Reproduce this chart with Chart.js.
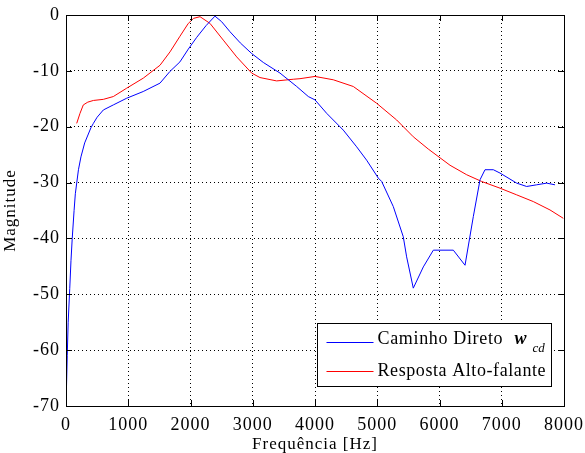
<!DOCTYPE html>
<html>
<head>
<meta charset="utf-8">
<script src="https://cdn.jsdelivr.net/npm/chart.js@4/dist/chart.umd.min.js"></script>
<style>
  html, body { margin: 0; padding: 0; background: #fff; }
  #wrap { width: 585px; height: 453px; }
</style>
</head>
<body>
<div id="wrap"><canvas id="c" width="585" height="453"></canvas></div>
<script>
// Caminho direto (w_cd): frequência [Hz] e magnitude
const freqDireto = [5, 20, 35, 60, 80, 100, 130, 150, 200, 240, 300, 400, 440, 500, 600, 760, 975, 1240, 1510, 1670, 1830, 1965, 2100, 2250, 2393, 2500, 2635, 2800, 2983, 3170, 3438, 3706, 3893, 4000, 4187, 4454, 4669, 4830, 5017, 5071, 5258, 5418, 5472, 5579, 5740, 5901, 6222, 6410, 6543, 6651, 6731, 6865, 6972, 7240, 7400, 7561, 7722, 7855];
const magDireto  = [-68, -61, -55, -49, -44, -40, -35, -32, -27.7, -25.4, -22.9, -20.2, -19.4, -18.3, -17.0, -16.1, -14.9, -13.7, -12.2, -10.1, -8.4, -6.1, -4.0, -1.9, -0.2, -1.2, -3.0, -5.0, -6.9, -8.5, -10.4, -12.8, -14.6, -15.2, -17.6, -20.6, -23.6, -26.0, -29.2, -29.8, -34.3, -39.7, -43.3, -48.9, -45.1, -42.1, -42.1, -44.8, -36.1, -29.5, -27.7, -27.7, -28.3, -30.1, -30.7, -30.4, -30.1, -30.4];

// Resposta do alto-falante
const freqFalante = [172, 225, 278, 350, 440, 600, 760, 975, 1242, 1510, 1671, 1831, 1965, 2050, 2153, 2313, 2527, 2742, 2983, 3116, 3384, 3652, 3759, 4000, 4294, 4615, 4990, 5312, 5579, 5820, 6169, 6437, 6677, 6972, 7240, 7507, 7775, 7989];
const magFalante  = [-19.4, -17.6, -16.1, -15.6, -15.3, -15.1, -14.6, -13.1, -11.3, -9.0, -6.6, -3.8, -1.5, -0.6, -0.3, -1.5, -4.5, -7.5, -10.4, -11.2, -11.8, -11.5, -11.4, -11.0, -11.6, -12.8, -15.8, -18.8, -21.8, -24.0, -26.9, -28.6, -29.8, -31.0, -32.2, -33.4, -34.9, -36.4];

const xTicks = [0, 1000, 2000, 3000, 4000, 5000, 6000, 7000, 8000];
const yTicks = [0, -10, -20, -30, -40, -50, -60, -70];

const serif = '"Liberation Serif", "Times New Roman", serif';
const toPoints = (xs, ys) => xs.map((x, i) => ({ x: x, y: ys[i] }));

// Espaçamento das letras nos textos dos eixos
const spacingPlugin = {
  id: 'spacing',
  beforeDraw(chart) { chart.ctx.letterSpacing = '1px'; }
};

// Escreve um texto ocupando a largura indicada (ajusta o espaçamento entre letras)
function fitText(ctx, text, x, y, width) {
  ctx.letterSpacing = '0px';
  const base = ctx.measureText(text).width;
  const s = Math.max(0, (width - base) / (text.length - 1));
  ctx.letterSpacing = s.toFixed(2) + 'px';
  ctx.fillText(text, x, y);
  ctx.letterSpacing = '0px';
}

// Moldura, marcas internas dos eixos e legenda
const framePlugin = {
  id: 'frame',
  afterDraw(chart) {
    const { ctx, chartArea: a, scales } = chart;
    ctx.save();
    ctx.strokeStyle = '#000';
    ctx.lineWidth = 1;
    ctx.strokeRect(Math.round(a.left) + 0.5, Math.round(a.top) + 0.5,
                   Math.round(a.right - a.left), Math.round(a.bottom - a.top));
    const tl = 6;
    ctx.beginPath();
    xTicks.forEach(v => {
      const x = Math.round(scales.x.getPixelForValue(v)) + 0.5;
      ctx.moveTo(x, a.top); ctx.lineTo(x, a.top + tl);
      ctx.moveTo(x, a.bottom); ctx.lineTo(x, a.bottom - tl);
    });
    yTicks.forEach(v => {
      const y = Math.round(scales.y.getPixelForValue(v)) + 0.5;
      ctx.moveTo(a.left, y); ctx.lineTo(a.left + tl, y);
      ctx.moveTo(a.right, y); ctx.lineTo(a.right - tl, y);
    });
    ctx.stroke();

    // legenda
    const bw = 234, bh = 63;
    const bx = Math.round(a.right - 13 - bw) + 0.5;
    const by = Math.round(a.bottom - 20 - bh) + 0.5;
    ctx.fillStyle = '#fff';
    ctx.fillRect(bx, by, bw, bh);
    ctx.strokeStyle = '#000';
    ctx.strokeRect(bx, by, bw, bh);

    const ds = chart.data.datasets;
    const rows = [by + 18, by + 47];
    ds.forEach((d, i) => {
      ctx.strokeStyle = d.borderColor;
      ctx.beginPath();
      ctx.moveTo(bx + 9, Math.round(rows[i]) + 0.5);
      ctx.lineTo(bx + 56, Math.round(rows[i]) + 0.5);
      ctx.stroke();
    });
    ctx.fillStyle = '#000';
    ctx.textBaseline = 'alphabetic';
    ctx.textAlign = 'left';
    ctx.font = '18px ' + serif;
    fitText(ctx, 'Caminho Direto', bx + 60, by + 20.5, 125);
    fitText(ctx, 'Resposta Alto-falante', bx + 60, by + 52, 168);
    ctx.font = 'italic bold 18px ' + serif;
    ctx.fillText('w', bx + 197, by + 20);
    ctx.font = 'italic 13px ' + serif;
    fitText(ctx, 'cd', bx + 215, by + 28, 12);
    ctx.restore();
  }
};

new Chart(document.getElementById('c'), {
  type: 'line',
  data: {
    datasets: [
      {
        label: 'Caminho Direto w_cd',
        data: toPoints(freqDireto, magDireto),
        borderColor: '#0000ff',
        borderWidth: 1,
        pointRadius: 0,
        tension: 0,
        fill: false
      },
      {
        label: 'Resposta Alto-falante',
        data: toPoints(freqFalante, magFalante),
        borderColor: '#ff0000',
        borderWidth: 1,
        pointRadius: 0,
        tension: 0,
        fill: false
      }
    ]
  },
  options: {
    responsive: false,
    animation: false,
    devicePixelRatio: 1,
    layout: { padding: { top: 15, right: 21, left: 0, bottom: 0 } },
    plugins: { legend: { display: false }, tooltip: { enabled: false } },
    scales: {
      x: {
        type: 'linear',
        min: 0, max: 8000,
        afterBuildTicks: s => { s.ticks = xTicks.map(v => ({ value: v })); },
        afterFit: s => { s.height = 47; s.paddingLeft = 0; s.paddingRight = 0; },
        ticks: {
          color: '#000',
          font: { family: serif, size: 18 },
          padding: 8,
          maxRotation: 0,
          autoSkip: false,
          callback: v => String(v)
        },
        grid: { color: '#000', lineWidth: 1, drawTicks: false },
        border: { display: false, dash: [1, 3] },
        title: {
          display: true,
          text: 'Frequência [Hz]',
          color: '#000',
          font: { family: serif, size: 17 },
          padding: { top: 0, bottom: -2 }
        }
      },
      y: {
        min: -70, max: 0,
        afterBuildTicks: s => { s.ticks = yTicks.map(v => ({ value: v })); },
        afterFit: s => { s.width = 66; s.paddingTop = 0; s.paddingBottom = 0; },
        ticks: {
          color: '#000',
          font: { family: serif, size: 18 },
          padding: 6,
          autoSkip: false,
          callback: v => String(v)
        },
        grid: { color: '#000', lineWidth: 1, drawTicks: false },
        border: { display: false, dash: [1, 3] },
        title: {
          display: true,
          text: 'Magnitude',
          color: '#000',
          font: { family: serif, size: 17 },
          padding: { top: 0, bottom: 0 }
        }
      }
    }
  },
  plugins: [spacingPlugin, framePlugin]
});
</script>
</body>
</html>
